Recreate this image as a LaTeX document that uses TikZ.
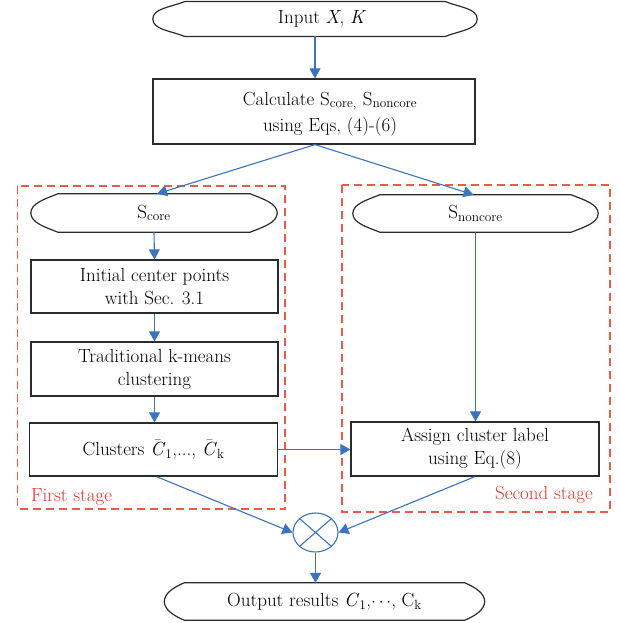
\documentclass[tikz,border=0pt]{standalone}
\usetikzlibrary{arrows.meta,shapes.geometric}
\definecolor{flow}{HTML}{3B73C1}
\definecolor{stage}{HTML}{EE5A46}
\definecolor{stagetext}{HTML}{E8352C}
\definecolor{edge}{HTML}{2B2B2B}
\newcommand\termshape[2]{%
  \draw[edge, line width=1.2pt]
    ([xshift=#2]#1.north west) -- ([xshift=-#2]#1.north east)
    to[out=-22,in=90,out looseness=1.05,in looseness=0.75] (#1.east)
    to[out=-90,in=22,out looseness=0.75,in looseness=1.05] ([xshift=-#2]#1.south east)
    -- ([xshift=#2]#1.south west)
    to[out=158,in=-90,out looseness=1.05,in looseness=0.75] (#1.west)
    to[out=90,in=-158,out looseness=0.75,in looseness=1.05] ([xshift=#2]#1.north west) -- cycle;}
\newcommand\subtxt[1]{\textsubscript{#1}}
\newcommand\barC{$\bar{\mbox{\textit{C}}}$}
\tikzset{
  txt/.style={font=\fontsize{19}{23}\selectfont, align=center, inner sep=0pt},
  box/.style={txt, draw=edge, line width=1.2pt, rectangle},
  term/.style={txt},
  flowline/.style={draw=flow, line width=1.1pt, -{Triangle[length=10pt,width=11pt]}},
  stagebox/.style={draw=stage, line width=1.1pt, dash pattern=on 8pt off 5pt},
  stagelabel/.style={txt, text=stagetext},
}
\begin{document}
\begin{tikzpicture}[x=1pt,y=1pt]
\useasboundingbox (0,0) rectangle (619,-623);

% stage frames
\draw[stagebox] (17.5,-186) rectangle (285,-509);
\draw[stagebox] (342,-185) rectangle (610,-512);
\node[stagelabel, anchor=west] (firstlbl) at (31,-497) {First stage};
\node[stagelabel, anchor=east] (secondlbl) at (593,-495) {Second stage};

% input terminal
\node[term, minimum width=324pt, minimum height=34.5pt] (input) at (315,-19) {};
\termshape{input}{32pt}
\node[txt] (inputtxt) at (322,-19) {Input \textit{X}, \textit{K}};

% calculate
\node[box, minimum width=322pt, minimum height=65pt] (calc) at (314,-111.5) {};
\node[txt] (calctxt) at (330,-114) {Calculate S\subtxt{core,} S\subtxt{noncore}\\[3pt] using Eqs, (4)-(6)};

% left column
\node[term, minimum width=246pt, minimum height=38pt] (score) at (154,-213) {S\subtxt{core}};
\termshape{score}{27pt}
\node[box, minimum width=247pt, minimum height=53pt] (init) at (154.5,-286.5) {Initial center points\\with Sec. 3.1};
\node[box, minimum width=247pt, minimum height=54pt] (trad) at (154.5,-369) {Traditional k-means\\clustering};
\node[box, minimum width=248pt, minimum height=53pt] (clus) at (153.5,-449.5) {Clusters \barC\subtxt{1},..., \barC\subtxt{k}};

% right column
\node[term, minimum width=245pt, minimum height=37pt] (snon) at (475.5,-213.5) {S\subtxt{noncore}};
\termshape{snon}{27pt}
\node[box, minimum width=248pt, minimum height=54pt] (assign) at (475,-449) {Assign cluster label\\using Eq.(8)};

% combiner
\node[draw=flow, line width=1.1pt, ellipse, minimum width=45pt, minimum height=39pt, inner sep=0pt] (mix) at (315.5,-532.5) {};
\draw[flow, line width=1.1pt] (mix.north west) -- (mix.south east);
\draw[flow, line width=1.1pt] (mix.north east) -- (mix.south west);

% output terminal
\node[term, minimum width=320pt, minimum height=37pt] (output) at (324.5,-601.5) {Output results \textit{C}\subtxt{1},$\cdots$, C\subtxt{k}};
\termshape{output}{20pt}

% connectors
\draw[flowline] (input.south -| 315,0) -- (calc.north -| 315,0);
\draw[flowline] (calc.south -| 315,0) -- ([xshift=3pt]score.north);
\draw[flowline] (calc.south -| 315,0) -- ([xshift=-2pt]snon.north);
\draw[flowline] (score.south) -- (init.north);
\draw[flowline] (init.south) -- (trad.north);
\draw[flowline] (trad.south) -- (clus.north -| trad.south);
\draw[flowline] (snon.south) -- (assign.north -| snon.south);
\draw[flowline] (clus.east) -- (assign.west |- clus.east);
\draw[flowline] ([xshift=3pt]clus.south) -- (mix.west);
\draw[flowline] (assign.south) -- (mix.east);
\draw[flowline] (mix.south) -- (output.north -| mix.south);
\end{tikzpicture}
\end{document}
